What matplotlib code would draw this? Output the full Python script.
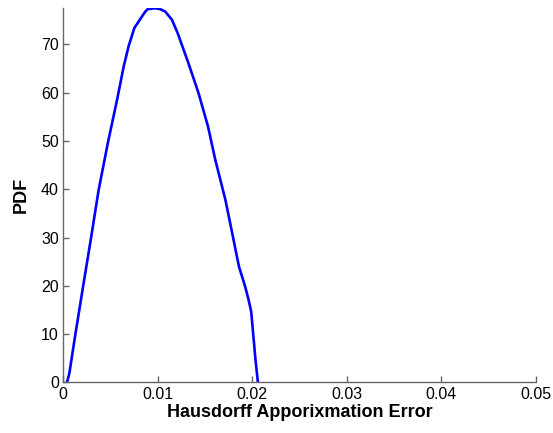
import numpy as np
import matplotlib.pyplot as plt

plt.rcParams['font.family'] = ['Liberation Sans', 'DejaVu Sans']

# curve
err = [0.00042, 0.00067, 0.0013, 0.00211, 0.00296, 0.00376, 0.00476, 0.00571,
       0.00641, 0.00693, 0.00754, 0.00835, 0.0087, 0.00894, 0.00976, 0.01029,
       0.01081, 0.01152, 0.01213, 0.01275, 0.01321, 0.01433, 0.01533, 0.0161,
       0.01717, 0.01789, 0.0186, 0.01925, 0.01962, 0.0199, 0.0201, 0.02035,
       0.02059]
pdf = [0.0, 1.9, 9.9, 19.75, 29.9, 39.8, 49.8, 58.5,
       65.4, 69.6, 73.4, 75.8, 76.8, 77.3, 77.5, 77.3,
       76.8, 75.1, 72.3, 68.9, 66.4, 59.9, 53.0, 46.1,
       37.8, 30.9, 24.0, 19.9, 17.1, 14.6, 10.2, 4.7,
       0.3]
xticks = [0, 0.01, 0.02, 0.03, 0.04, 0.05]
xticklabels = ['0', '0.01', '0.02', '0.03', '0.04', '0.05']
yticks = [0, 10, 20, 30, 40, 50, 60, 70]

fig = plt.figure(figsize=(5.53, 4.33), dpi=100)
ax = fig.add_axes([0.114, 0.117, 0.855, 0.864])

ax.plot(err, pdf, color='#0000ff', linewidth=1.9)

ax.set_xlim(0, 0.05)
ax.set_ylim(0, 77.5)
ax.set_xticks(xticks)
ax.set_xticklabels(xticklabels)
ax.set_yticks(yticks)

for s in ['top', 'right']:
    ax.spines[s].set_visible(False)
for s in ['left', 'bottom']:
    ax.spines[s].set_color('#666666')
    ax.spines[s].set_linewidth(1.0)
ax.tick_params(direction='in', length=4, width=1.0, color='#666666',
               labelsize=11.5, labelcolor='black', pad=3)

ax.set_xlabel('Hausdorff Apporixmation Error', fontsize=13, fontweight='bold', labelpad=2)
ax.set_ylabel('PDF', fontsize=13, fontweight='bold', labelpad=8)

fig.savefig('out.png', dpi=100)
